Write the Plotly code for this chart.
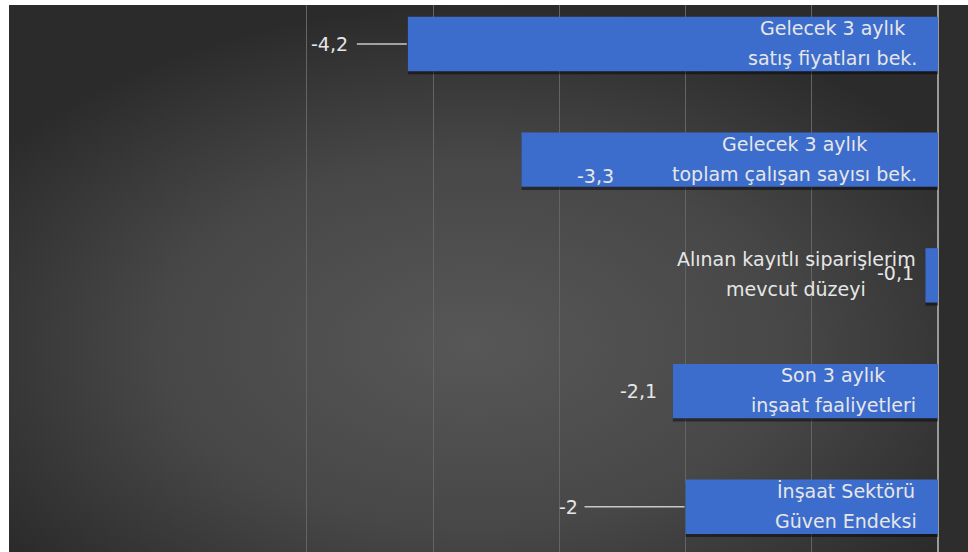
import base64
import plotly.graph_objects as go

# ---- data (bottom to top) ----
categories = [
    "İnşaat Sektörü Güven Endeksi",
    "Son 3 aylık inşaat faaliyetleri",
    "Alınan kayıtlı siparişlerim mevcut düzeyi",
    "Gelecek 3 aylık toplam çalışan sayısı bek.",
    "Gelecek 3 aylık satış fiyatları bek.",
]
label_line1 = ["İnşaat Sektörü", "Son 3 aylık", "Alınan kayıtlı siparişlerim",
               "Gelecek 3 aylık", "Gelecek 3 aylık"]
label_line2 = ["Güven Endeksi", "inşaat faaliyetleri", "mevcut düzeyi",
               "toplam çalışan sayısı bek.", "satış fiyatları bek."]
values = [-2.0, -2.1, -0.1, -3.3, -4.2]
value_text = ["-2", "-2,1", "-0,1", "-3,3", "-4,2"]
grid_ticks = [-5, -4, -3, -2, -1]

# ---- styling / label placement (pixels relative to anchors) ----
cat_xshift = [-92, -105, -142, -144, -106]
value_xshift = [-117, -34, -30, 74, -78]
value_yshift = [0, 0, 2, -16, 0]
leader = [(-101, -1), None, None, None, (-51, -1)]
W, H = 968, 552
BAR_COLOR = "#3c6dcd"
TEXT_COLOR = "#e6e6e6"
FONT = "DejaVu Sans"

svg = '''<svg xmlns="http://www.w3.org/2000/svg" width="929" height="547" viewBox="0 0 929 547" preserveAspectRatio="none">
<defs><radialGradient id="g" cx="0.5" cy="0.62" r="0.62" fx="0.5" fy="0.62">
<stop offset="0" stop-color="#575757"/><stop offset="0.55" stop-color="#474747"/><stop offset="1" stop-color="#2b2b2b"/>
</radialGradient></defs><rect width="929" height="547" fill="url(#g)"/></svg>'''
bg_src = "data:image/svg+xml;base64," + base64.b64encode(svg.encode()).decode()

fig = go.Figure()
fig.add_trace(go.Bar(
    x=values, y=categories, orientation="h", width=0.47, offset=-0.262,
    marker=dict(color="rgba(0,0,0,0.45)", line=dict(width=0)),
    hoverinfo="skip", showlegend=False,
))
fig.add_trace(go.Bar(
    x=values, y=categories, orientation="h", width=0.47,
    marker=dict(color=BAR_COLOR, line=dict(width=0)),
    showlegend=False,
))

annotations = []
shapes = []
for i, cat in enumerate(categories):
    for txt, ys in ((label_line1[i], 16), (label_line2[i], -14)):
        annotations.append(dict(x=0, y=cat, xref="x", yref="y", text=txt,
                                showarrow=False, xanchor="center", yanchor="middle",
                                xshift=cat_xshift[i], yshift=ys,
                                font=dict(family=FONT, size=19, color=TEXT_COLOR)))
    annotations.append(dict(x=values[i], y=cat, xref="x", yref="y", text=value_text[i],
                            showarrow=False, xanchor="center", yanchor="middle",
                            xshift=value_xshift[i], yshift=value_yshift[i],
                            font=dict(family=FONT, size=19, color=TEXT_COLOR)))
    if leader[i]:
        shapes.append(dict(type="line", xref="x", yref="y", xsizemode="pixel",
                           xanchor=values[i], x0=leader[i][0], x1=leader[i][1],
                           y0=i, y1=i, line=dict(color="#c8c8c8", width=1.5)))

shapes.append(dict(type="rect", xref="paper", yref="paper", x0=1, x1=1.05, y0=0, y1=1,
                   fillcolor="#2d2d2d", line=dict(width=0), layer="below"))

fig.update_layout(
    width=W, height=H,
    margin=dict(l=9, r=30, t=5, b=0),
    paper_bgcolor="white",
    plot_bgcolor="#3a3a3a",
    barmode="overlay",
    annotations=annotations,
    shapes=shapes,
    images=[dict(source=bg_src, xref="paper", yref="paper", x=0, y=1,
                 sizex=1, sizey=1, xanchor="left", yanchor="top",
                 sizing="stretch", layer="below")],
    xaxis=dict(range=[-7.36, 0], tickvals=grid_ticks, showticklabels=False, ticks="",
               showgrid=True, gridcolor="#646464", gridwidth=1,
               zeroline=True, zerolinecolor="#9a9a9a", zerolinewidth=2,
               showline=False, fixedrange=True),
    yaxis=dict(type="category", categoryorder="array", categoryarray=categories,
               range=[-0.391, 4.337], showticklabels=False, ticks="",
               showgrid=False, zeroline=False, showline=False, fixedrange=True),
)
fig.write_html("out.html", config={"displayModeBar": False},
               post_script="document.body.style.margin='0';")
